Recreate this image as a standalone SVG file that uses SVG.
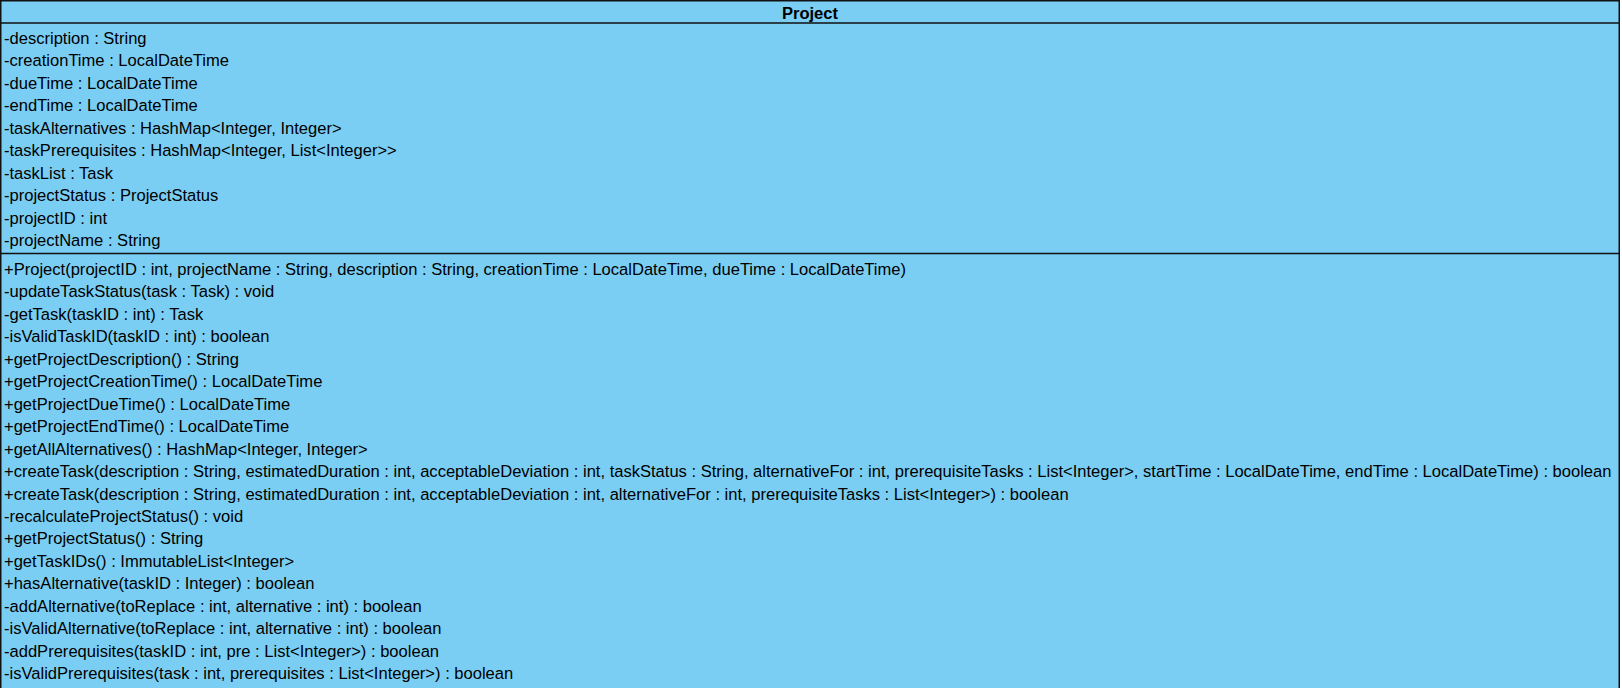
<svg xmlns="http://www.w3.org/2000/svg" width="1622" height="688" viewBox="0 0 1622 688">
<style>
.box{fill:#7ACEF4;stroke:#111;stroke-width:1.5}
.div{stroke:#111;stroke-width:1.5}
text{font-family:"Liberation Sans",Arial,sans-serif;font-size:16.56px;fill:#000}
.title{font-weight:bold;text-anchor:middle}
</style>
<g id="project">
<rect class="box" x="0.75" y="0.75" width="1618.5" height="700"/>
<line class="div" x1="0.75" y1="23" x2="1619.25" y2="23"/>
<line class="div" x1="0.75" y1="253.5" x2="1619.25" y2="253.5"/>
<text class="title" x="810" y="18.5">Project</text>
<text x="4" y="44">-description : String</text>
<text x="4" y="66.45">-creationTime : LocalDateTime</text>
<text x="4" y="88.9">-dueTime : LocalDateTime</text>
<text x="4" y="111.35">-endTime : LocalDateTime</text>
<text x="4" y="133.8">-taskAlternatives : HashMap&lt;Integer, Integer&gt;</text>
<text x="4" y="156.25">-taskPrerequisites : HashMap&lt;Integer, List&lt;Integer&gt;&gt;</text>
<text x="4" y="178.7">-taskList : Task</text>
<text x="4" y="201.15">-projectStatus : ProjectStatus</text>
<text x="4" y="223.6">-projectID : int</text>
<text x="4" y="246.05">-projectName : String</text>
<text x="4" y="275">+Project(projectID : int, projectName : String, description : String, creationTime : LocalDateTime, dueTime : LocalDateTime)</text>
<text x="4" y="297.45">-updateTaskStatus(task : Task) : void</text>
<text x="4" y="319.9">-getTask(taskID : int) : Task</text>
<text x="4" y="342.35">-isValidTaskID(taskID : int) : boolean</text>
<text x="4" y="364.8">+getProjectDescription() : String</text>
<text x="4" y="387.25">+getProjectCreationTime() : LocalDateTime</text>
<text x="4" y="409.7">+getProjectDueTime() : LocalDateTime</text>
<text x="4" y="432.15">+getProjectEndTime() : LocalDateTime</text>
<text x="4" y="454.6">+getAllAlternatives() : HashMap&lt;Integer, Integer&gt;</text>
<text x="4" y="477.05">+createTask(description : String, estimatedDuration : int, acceptableDeviation : int, taskStatus : String, alternativeFor : int, prerequisiteTasks : List&lt;Integer&gt;, startTime : LocalDateTime, endTime : LocalDateTime) : boolean</text>
<text x="4" y="499.5">+createTask(description : String, estimatedDuration : int, acceptableDeviation : int, alternativeFor : int, prerequisiteTasks : List&lt;Integer&gt;) : boolean</text>
<text x="4" y="521.95">-recalculateProjectStatus() : void</text>
<text x="4" y="544.4">+getProjectStatus() : String</text>
<text x="4" y="566.85">+getTaskIDs() : ImmutableList&lt;Integer&gt;</text>
<text x="4" y="589.3">+hasAlternative(taskID : Integer) : boolean</text>
<text x="4" y="611.75">-addAlternative(toReplace : int, alternative : int) : boolean</text>
<text x="4" y="634.2">-isValidAlternative(toReplace : int, alternative : int) : boolean</text>
<text x="4" y="656.65">-addPrerequisites(taskID : int, pre : List&lt;Integer&gt;) : boolean</text>
<text x="4" y="679.1">-isValidPrerequisites(task : int, prerequisites : List&lt;Integer&gt;) : boolean</text>
</g>
<g id="connectors"/>
</svg>
